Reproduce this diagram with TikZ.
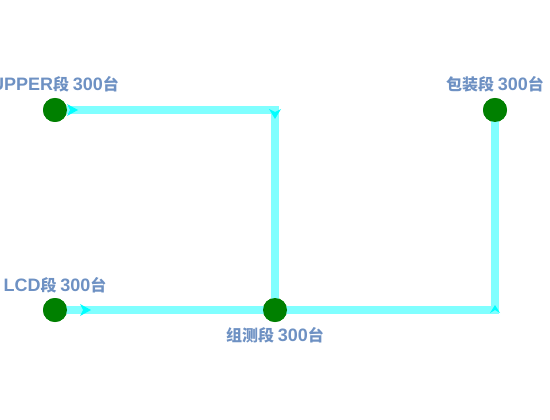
\documentclass[tikz,border=0pt]{standalone}
\usepackage{fontspec}
\setmainfont{Noto Sans CJK SC}
\newfontfamily\latin{Liberation Sans}
\usetikzlibrary{calc}
\definecolor{linecyan}{RGB}{128,255,255}
\definecolor{tipcyan}{RGB}{0,255,255}
\definecolor{dotgreen}{RGB}{0,128,0}
\definecolor{labelblue}{RGB}{110,145,195}
\newcommand{\lt}[1]{{\latin\fontsize{18}{18}\selectfont #1}}
\tikzset{
  station/.style={circle, fill=dotgreen, inner sep=0pt, minimum size=24pt},
  flow/.style={draw=linecyan, line width=8pt},
  tag/.style={font=\fontsize{16}{16}\selectfont\bfseries, text=labelblue, inner sep=2pt}
}
\begin{document}
\begin{tikzpicture}[x=1pt, y=-1pt]
% 画布
            \useasboundingbox ( 0, 0 ) rectangle ( 550, 420 );

% 工段
            \node [station] (upper) at ( 55, 110 ) {};
            \node [station] (lcd) at ( 55, 310 ) {};
            \node [station] (zuce) at ( 275, 310 ) {};
            \node [station] (baozhuang) at ( 495, 110 ) {};

% 拐点
            \coordinate (c1) at ( 275, 110 );
            \coordinate (c2) at ( 495, 310 );

% 线路
            \draw [flow] (upper.center) -- ($(c1)+(4,0)$);
            \draw [flow] (c1) -- (zuce.center);
            \draw [flow] (lcd.center) -- ($(c2)+(4,0)$);
            \draw [flow] (c2) -- (baozhuang.center);

% 箭头
            \fill [tipcyan] ( 67, 104 ) -- ( 78, 110 ) -- ( 67, 116 ) -- ( 70, 110 ) -- cycle;
            \fill [tipcyan] ( 269, 109 ) -- ( 275, 119 ) -- ( 281, 109 ) -- ( 275, 112 ) -- cycle;
            \fill [tipcyan] ( 80, 304 ) -- ( 91, 310 ) -- ( 80, 316 ) -- ( 83, 310 ) -- cycle;
            \fill [tipcyan] ( 490, 313 ) -- ( 495, 305 ) -- ( 500, 313 ) -- ( 495, 310 ) -- cycle;

% 圆点盖在线上
            \foreach \s in {upper, lcd, zuce, baozhuang}
                \fill [dotgreen] (\s.center) circle ( 12 );

% 标签
            \node [tag, above=3pt] at (upper.north) {\lt{UPPER}段 \lt{300}台};
            \node [tag, above=3pt] at (lcd.north) {\lt{LCD}段 \lt{300}台};
            \node [tag, below=3pt] at (zuce.south) {组测段 \lt{300}台};
            \node [tag, above=3pt] at (baozhuang.north) {包装段 \lt{300}台};
\end{tikzpicture}
\end{document}
